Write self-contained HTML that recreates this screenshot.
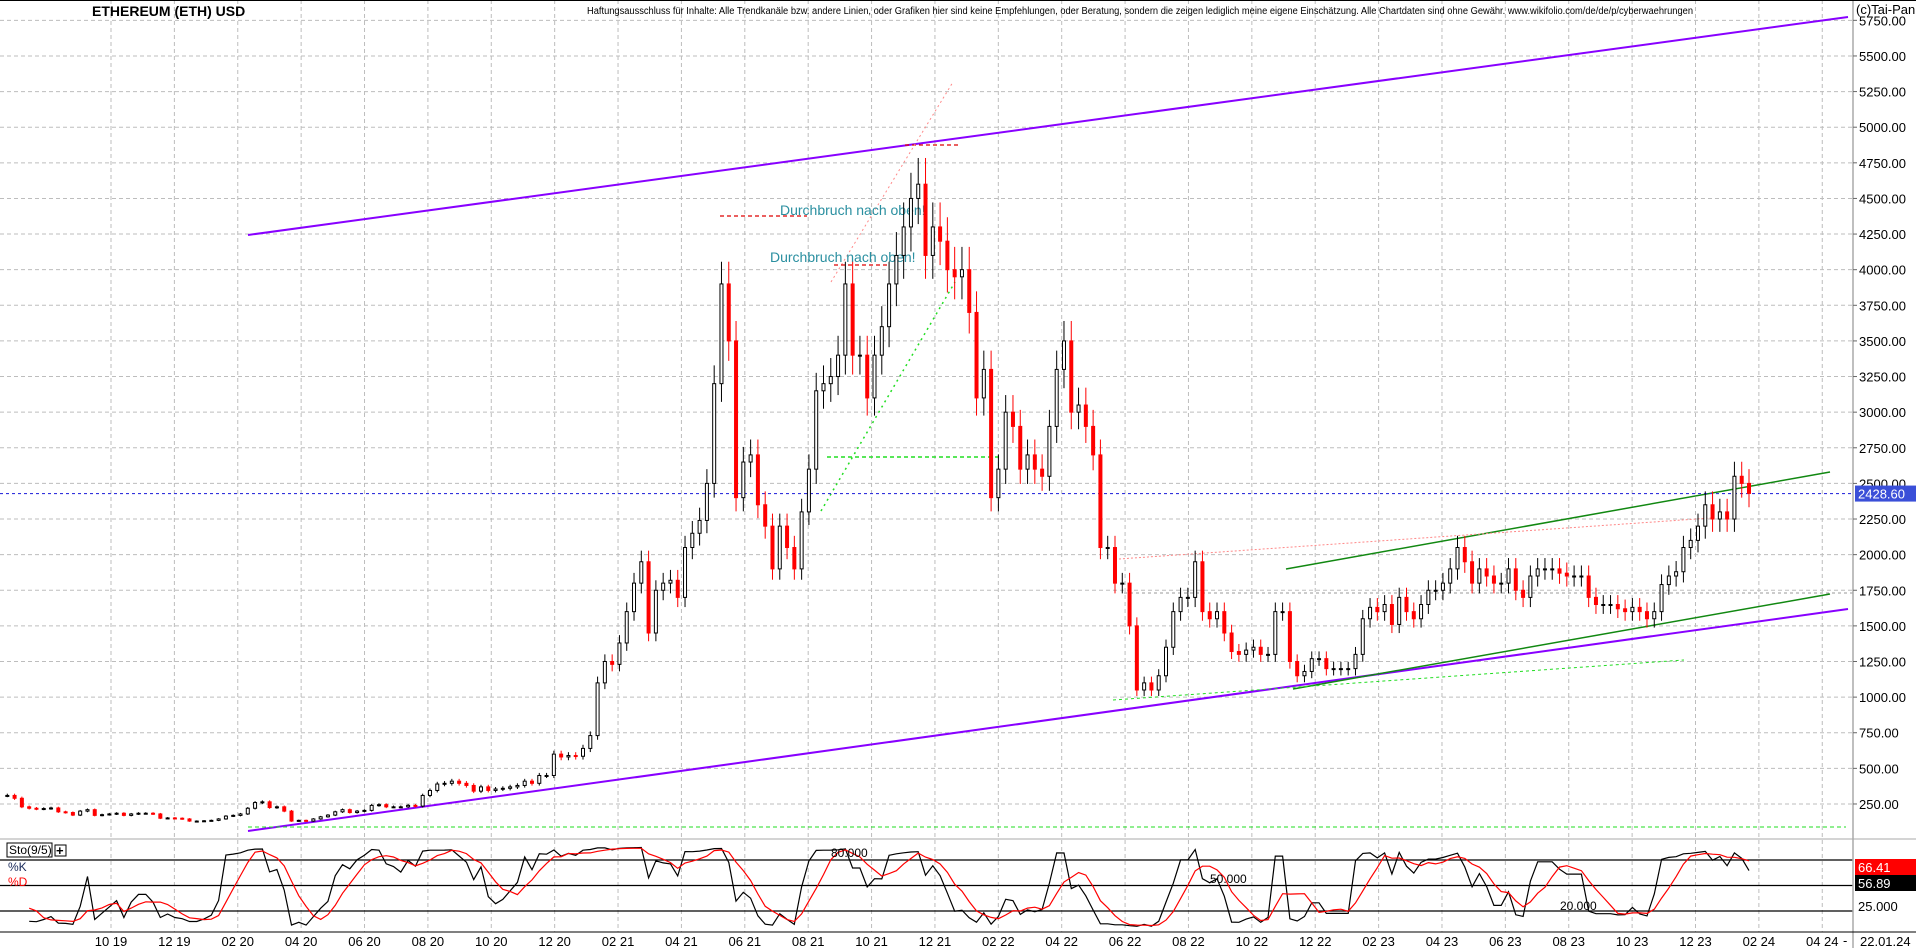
<!DOCTYPE html>
<html><head><meta charset="utf-8"><style>
html,body{margin:0;padding:0;background:#fff;}
svg{display:block;font-family:"Liberation Sans",sans-serif;}
</style></head><body>
<svg id="chart" width="1916" height="948" viewBox="0 0 1916 948" xmlns="http://www.w3.org/2000/svg">
<rect x="0" y="0" width="1916" height="948" fill="#fff"/>
<g id="grid"></g>
<g id="anno"></g>
<g id="candles"></g>
<g id="stoch"></g>
<g id="axes"></g>
</svg>
<script>
// weekly closes, ETH/USD, last week = 22.01.2024
const weeklyCloses = [310,290,230,220,215,218,222,195,190,172,200,210,170,175,180,185,170,180,185,185,180,150,152,150,145,130,130,132,135,145,165,170,180,220,260,265,225,230,200,130,135,130,145,160,172,195,210,190,200,205,240,245,230,230,230,240,235,310,345,390,395,410,395,380,340,370,345,355,360,370,380,410,395,450,450,600,580,590,585,640,730,1100,1250,1230,1380,1600,1800,1950,1450,1750,1800,1820,1700,2050,2150,2240,2500,3200,3900,3500,2400,2650,2700,2350,2200,1900,2200,2050,1900,2300,2600,3150,3200,3250,3400,3900,3400,3400,3100,3400,3600,3900,4100,4300,4500,4600,4100,4300,4200,4000,3950,4000,3700,3100,3300,2400,2600,3000,2900,2600,2700,2600,2550,2900,3300,3500,3000,3050,2900,2700,2050,2050,1800,1800,1500,1050,1100,1050,1150,1350,1600,1700,1700,1950,1600,1550,1600,1450,1320,1300,1330,1350,1300,1300,1600,1600,1250,1150,1180,1270,1270,1200,1200,1200,1200,1300,1550,1630,1600,1650,1510,1700,1600,1550,1650,1750,1750,1800,1900,2050,1950,1800,1900,1850,1800,1800,1900,1750,1700,1850,1900,1900,1900,1870,1850,1850,1850,1700,1650,1650,1650,1620,1600,1630,1600,1550,1600,1790,1850,1880,2050,2100,2200,2350,2250,2300,2250,2550,2500,2430];
const priceTicks = [250,500,750,1000,1250,1500,1750,2000,2250,2500,2750,3000,3250,3500,3750,4000,4250,4500,4750,5000,5250,5500,5750];
const monthLabels = ["10 19","12 19","02 20","04 20","06 20","08 20","10 20","12 20","02 21","04 21","06 21","08 21","10 21","12 21","02 22","04 22","06 22","08 22","10 22","12 22","02 23","04 23","06 23","08 23","10 23","12 23","02 24","04 24"];
const stochLevels = [20,50,80];

const NS="http://www.w3.org/2000/svg";
function el(tag,attrs,parent,text){const e=document.createElementNS(NS,tag);for(const k in attrs)e.setAttribute(k,attrs[k]);if(text!==undefined)e.textContent=text;parent.appendChild(e);return e;}
const PR=1853;
const yP=p=>839.6-0.14248*p;
const xM=m=>111+m*31.69; // months from Oct 2019
const yS=v=>911-(v-20)*0.85;
const grid=document.getElementById('grid'),anno=document.getElementById('anno'),cg=document.getElementById('candles'),sg=document.getElementById('stoch'),ax=document.getElementById('axes');

priceTicks.forEach(p=>{const l=el('line',{x1:0,x2:PR,y1:yP(p),y2:yP(p),stroke:'#bdbdbd','stroke-dasharray':'4,3'},grid);

});
monthLabels.forEach((t,i)=>{const x=xM(i*2);const l=el('line',{x1:x,x2:x,y1:0,y2:932,stroke:'#bdbdbd','stroke-dasharray':'4,3'},grid);

});

function ln(x1,y1,x2,y2,c,w,d,name){const a={x1,y1,x2,y2,stroke:c,'stroke-width':w};if(d)a['stroke-dasharray']=d;const l=el('line',a,anno);}
ln(248,235,1848,17,'#8800ff',2,null,'upper-channel-line');
ln(248,831,1848,609,'#8800ff',2,null,'lower-channel-line');
ln(1286,569,1830,472,'#118811',1.5,null,'green-upper-trendline');
ln(1293,689,1830,594,'#118811',1.5,null,'green-lower-trendline');
ln(1119,559,1711,518,'#ff8888',1,'2,2','pink-dotted-trendline');
ln(1113,700,1684,660,'#22dd22',1,'3,3','green-dotted-support');
ln(720,216,807,216,'#dd0000',1.2,'4,3','breakout-level-1');
ln(905,145,960,145,'#dd0000',1.2,'4,3','peak-level');
ln(831,282,953,82,'#ff8888',1,'2,3','red-dotted-diagonal');
ln(821,511,955,282,'#22dd22',1.5,'2,4','green-dotted-diagonal');
ln(827,457,1002,457,'#22dd22',1.5,'4,3','green-dashed-level');
ln(834,265,888,265,'#dd0000',1.2,'4,3','breakout-level-2');
ln(1124,593,PR,593,'#999',1,'3,3','grey-level');
ln(248,827,1846,827,'#22dd22',1,'4,3','green-bottom-level');
ln(0,yP(2428.6),PR,yP(2428.6),'#3333dd',1.2,'3,3','current-price-line');
let t=el('text',{x:780,y:215,fill:'#2a8fa0','font-size':14},anno,'Durchbruch nach oben!');

t=el('text',{x:770,y:262,fill:'#2a8fa0','font-size':14},anno,'Durchbruch nach oben!');


const n=weeklyCloses.length;const xEnd=1749;const wk=7*31.69/30.44;
const xW=i=>xEnd-(n-1-i)*wk;
const H=[],L=[];
for(let i=0;i<n;i++){
 const c=weeklyCloses[i],o=i?weeklyCloses[i-1]:c;
 const hi=Math.max(o,c)*1.04,lo=Math.min(o,c)*0.96;H.push(hi);L.push(lo);
 const up=c>=o,col=up?'#000':'#ff0000',x=xW(i);
 const w=el('line',{x1:x,x2:x,y1:yP(hi),y2:yP(lo),stroke:col,'stroke-width':1},cg);
 
 
 const b=el('rect',{x:x-1.5,y:yP(Math.max(o,c)),width:3,height:Math.max(1,Math.abs(yP(o)-yP(c))),fill:up?'#fff':'#ff0000',stroke:col,'stroke-width':1},cg);
 
 
}

el('line',{x1:0,x2:1916,y1:839,y2:839,stroke:'#aaa'},sg);
stochLevels.forEach(v=>{const l=el('line',{x1:0,x2:PR,y1:yS(v),y2:yS(v),stroke:'#000','stroke-width':1.3},sg);

});
const K=[],D=[];
for(let i=0;i<n;i++){const s=Math.max(0,i-8);let hh=-1e9,ll=1e9;for(let j=s;j<=i;j++){hh=Math.max(hh,H[j]);ll=Math.min(ll,L[j]);}
 K.push(hh>ll?100*(weeklyCloses[i]-ll)/(hh-ll):50);const ds=Math.max(0,i-4);let sm=0;for(let j=ds;j<=i;j++)sm+=K[j];D.push(sm/(i-ds+1));}
function pl(arr,col,name){let d='';arr.forEach((v,i)=>{if(i<3)return;d+=(d?'L':'M')+xW(i).toFixed(1)+','+yS(Math.max(2,Math.min(100,v))).toFixed(1);});const p=el('path',{d,fill:'none',stroke:col,'stroke-width':1.2},sg);}
pl(K,'#000','stoch-k-line');pl(D,'#ff0000','stoch-d-line');
t=el('text',{x:831,y:857,'font-size':12,fill:'#000'},sg,'80.000');
t=el('text',{x:1210,y:883,'font-size':12,fill:'#000'},sg,'50.000');
t=el('text',{x:1560,y:910,'font-size':12,fill:'#000'},sg,'20.000');
const sb=el('g',{},sg);
el('rect',{x:7,y:843,width:45,height:14,fill:'#fff',stroke:'#000'},sb);
el('text',{x:9,y:854,'font-size':12},sb,'Sto(9/5)');
el('rect',{x:55,y:845,width:11,height:11,fill:'#fff',stroke:'#000'},sb);
el('text',{x:56,y:855,'font-size':13,'font-weight':'bold'},sb,'+');
t=el('text',{x:8,y:871,'font-size':12,fill:'#1a2a5a'},sg,'%K');
t=el('text',{x:8,y:886,'font-size':12,fill:'#ff0000'},sg,'%D');

el('line',{x1:PR,x2:PR,y1:0,y2:948,stroke:'#aaa','stroke-width':1.5},ax);
el('line',{x1:0,x2:1916,y1:932,y2:932,stroke:'#000'},ax);
el('line',{x1:0,x2:1916,y1:0.5,y2:0.5,stroke:'#000'},ax);
priceTicks.forEach(p=>{el('line',{x1:PR,x2:PR+4,y1:yP(p),y2:yP(p),stroke:'#666'},ax);
 const tt=el('text',{x:1859,y:yP(p)+5,'font-size':13,fill:'#000'},ax,p.toFixed(2));
 
 });
monthLabels.forEach((m,i)=>{const tt=el('text',{x:xM(i*2),y:946,'font-size':13,'text-anchor':'middle',fill:'#000'},ax,m);
 
 });
t=el('text',{x:1843,y:945,'font-size':13},ax,'-');
t=el('text',{x:1860,y:946,'font-size':13},ax,'22.01.24');
el('rect',{x:1855,y:yP(2428.6)-8,width:61,height:16,fill:'#3a4fd8'},ax);
t=el('text',{x:1858,y:yP(2428.6)+5,'font-size':13,fill:'#fff'},ax,'2428.60');
el('rect',{x:1855,y:859,width:61,height:16,fill:'#ff0000'},ax);
t=el('text',{x:1858,y:872,'font-size':13,fill:'#fff'},ax,'66.41');
el('rect',{x:1855,y:875,width:61,height:16,fill:'#000'},ax);
t=el('text',{x:1858,y:888,'font-size':13,fill:'#fff'},ax,'56.89');
t=el('text',{x:1858,y:911,'font-size':13},ax,'25.000');
t=el('text',{x:1856,y:14,'font-size':13},ax,'(c)Tai-Pan');
t=el('text',{x:92,y:16,'font-size':14,'font-weight':'bold'},ax,'ETHEREUM (ETH) USD');
t=el('text',{x:587,y:14,'font-size':10,textLength:1106,lengthAdjust:'spacingAndGlyphs'},ax,'Haftungsausschluss für Inhalte: Alle Trendkanäle bzw. andere Linien, oder Grafiken hier sind keine Empfehlungen, oder Beratung, sondern die zeigen lediglich meine eigene Einschätzung. Alle Chartdaten sind ohne Gewähr.  www.wikifolio.com/de/de/p/cyberwaehrungen');

</script>
</body></html>
